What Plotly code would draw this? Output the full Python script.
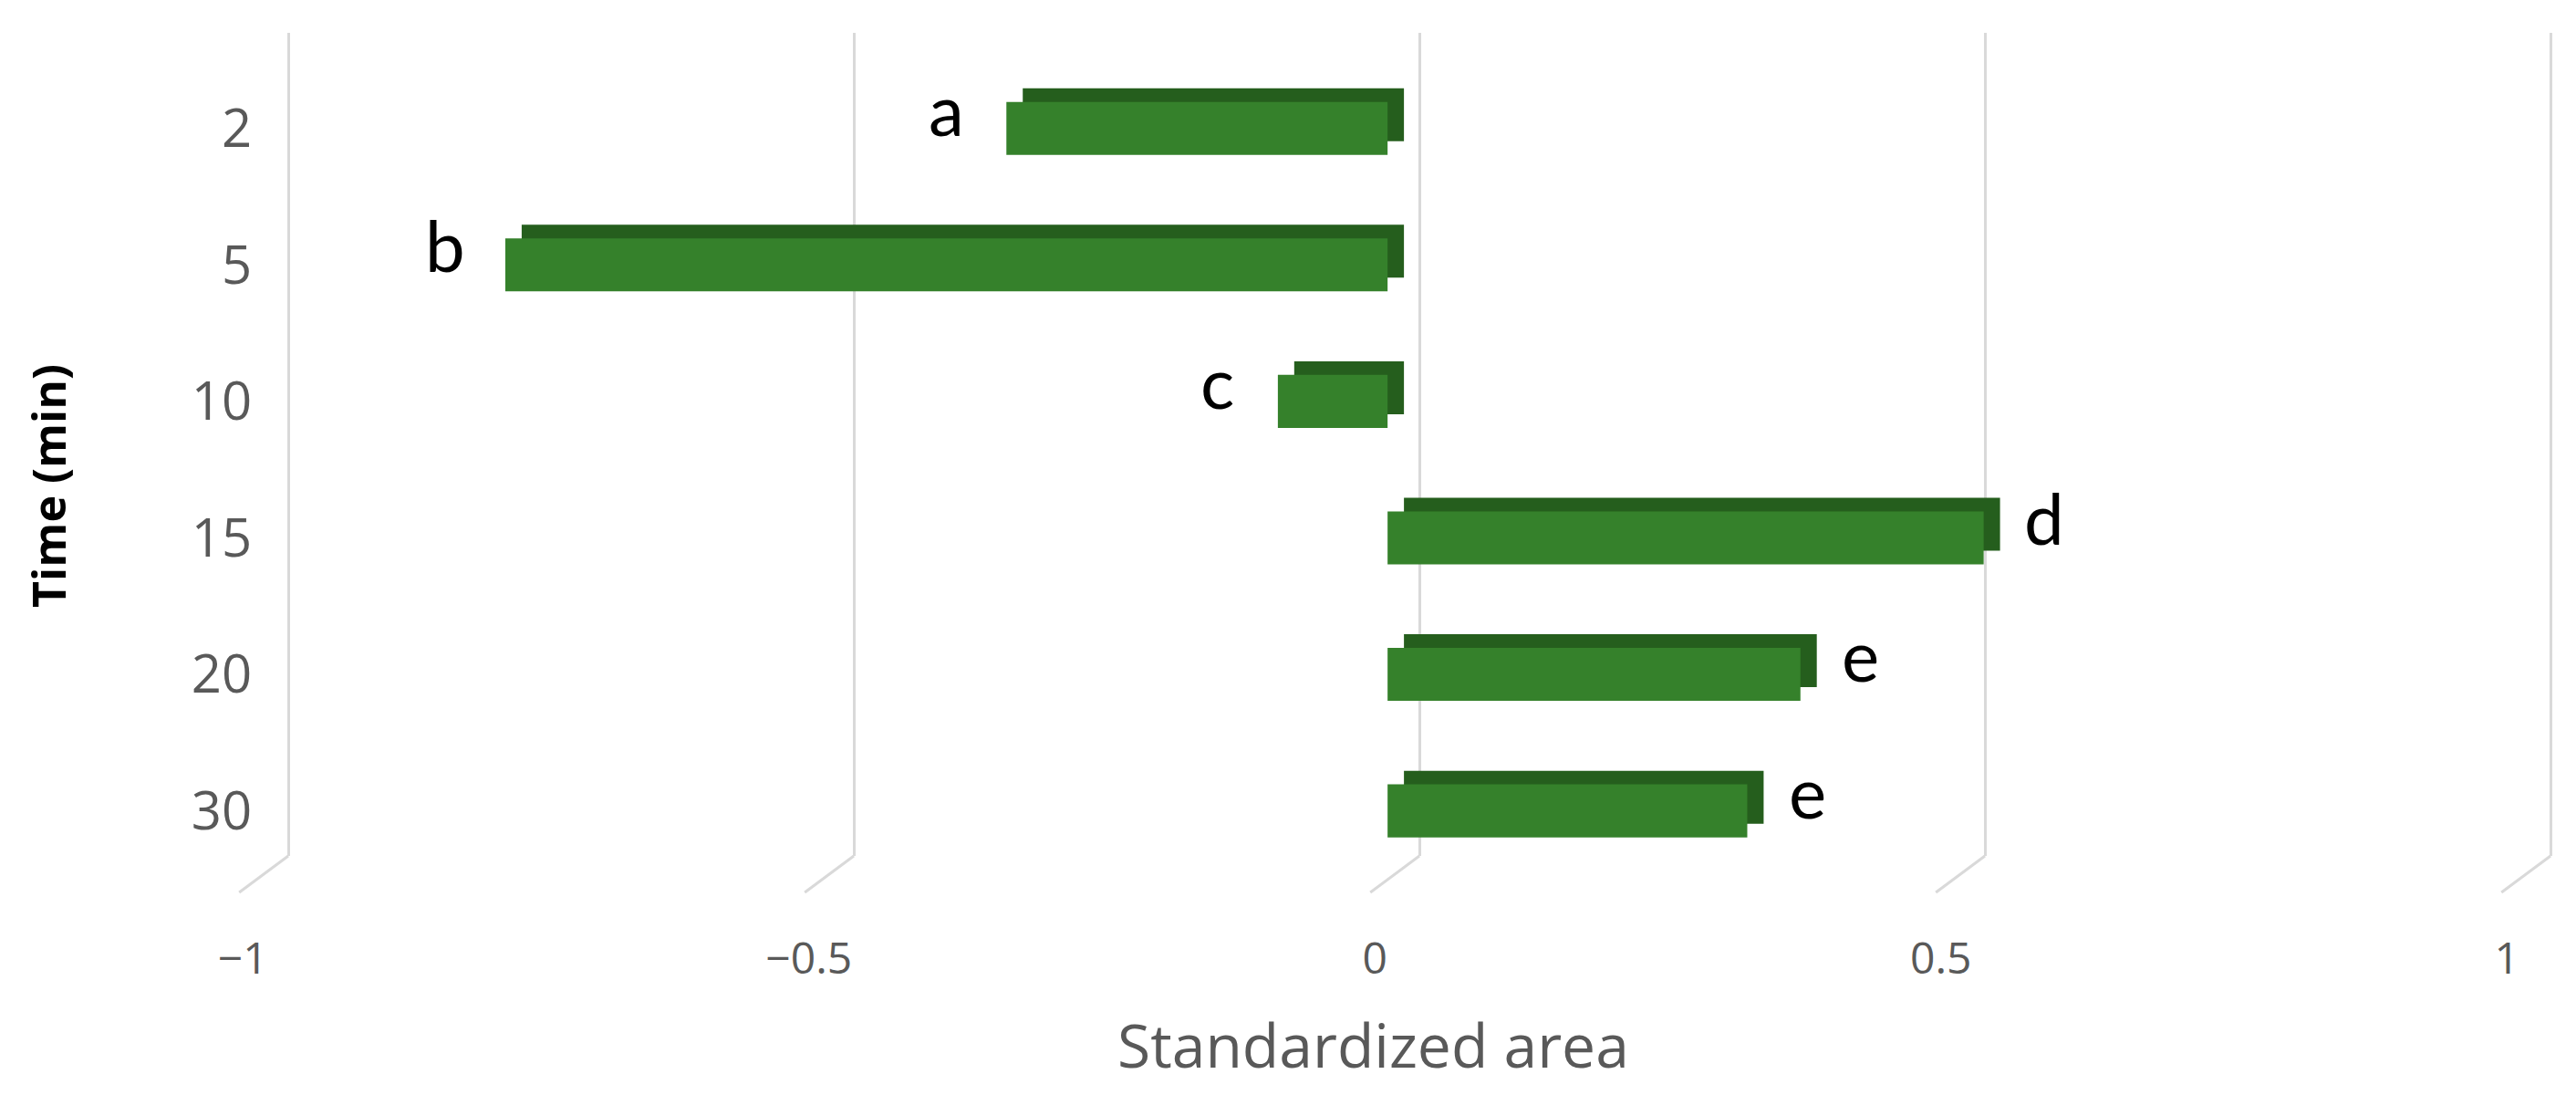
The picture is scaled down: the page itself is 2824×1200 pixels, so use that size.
import plotly.graph_objects as go

# ---- data ----
times = ["2", "5", "10", "15", "20", "30"]
std_area = [-0.337, -0.780, -0.097, 0.527, 0.365, 0.318]
letters = ["a", "b", "c", "d", "e", "e"]
x_ticks = [-1, -0.5, 0, 0.5, 1]

OFF = 8                      # browser body margin
W, H = 2824 - 2 * OFF, 1200 - 2 * OFF
PX = 1244.0                  # pixels per unit on the bar plane


def fx(p):
    return (p - OFF) / W


def fy(p):
    return 1 - (p - OFF) / H


front_col = "#35812B"
shade_col = "#255E1D"
grid_col = "#D9D9D9"
gray = "#595959"

bar_w = 0.388
depth_y = 0.10
depth_x = 18 / PX

fig = go.Figure()
# 3D depth (top + side face)
fig.add_trace(go.Bar(
    y=times, x=std_area, orientation="h", base=depth_x,
    width=bar_w, offset=-bar_w / 2 - depth_y,
    marker=dict(color=shade_col, line=dict(width=0)),
    hoverinfo="skip", showlegend=False,
))
# front face
fig.add_trace(go.Bar(
    y=times, x=std_area, orientation="h",
    width=bar_w, offset=-bar_w / 2,
    marker=dict(color=front_col, line=dict(width=0)),
    showlegend=False,
))
# helper traces for overlay axes
fig.add_trace(go.Scatter(x=[], y=[], xaxis="x2", yaxis="y", showlegend=False))
fig.add_trace(go.Scatter(x=[], y=[], xaxis="x3", yaxis="y", showlegend=False))

x_left, x_right = 240, 2810
dom = [fx(x_left), fx(x_right)]


def rng(zero_px, scale):
    return [(x_left - zero_px) / scale, (x_right - zero_px) / scale]


plot_top, plot_bot = 36, 938

fig.update_layout(
    width=W, height=H,
    margin=dict(l=0, r=0, t=0, b=0),
    paper_bgcolor="white", plot_bgcolor="white",
    barmode="overlay",
    xaxis=dict(domain=dom, range=rng(1517, PX), showgrid=False, zeroline=False,
               showticklabels=False, showline=False, anchor="y"),
    xaxis2=dict(overlaying="x", range=rng(1552, PX), showgrid=True, gridcolor=grid_col,
                gridwidth=3, tickvals=x_ticks, showticklabels=False, zeroline=False,
                showline=False, anchor="y"),
    xaxis3=dict(overlaying="x", range=rng(1503, 1245), showgrid=False, tickvals=x_ticks,
                zeroline=False, showline=False, anchor="y", ticks="",
                ticklabelstandoff=80,
                tickfont=dict(family="Open Sans", size=48, color=gray)),
    yaxis=dict(type="category", categoryarray=times, range=[5.33, -0.70],
               domain=[fy(plot_bot), fy(plot_top)],
               anchor="free", position=fx(268), showgrid=False, zeroline=False,
               showline=False, ticks="",
               tickfont=dict(family="Open Sans", size=58, color=gray)),
)

# diagonal feet of the gridlines
for t in x_ticks:
    fig.add_shape(type="line", xref="x2", yref="paper",
                  x0=t, y0=fy(plot_bot), x1=t - 54 / PX, y1=fy(978),
                  line=dict(color=grid_col, width=3), layer="below")

# letters
for i, (v, lt) in enumerate(zip(std_area, letters)):
    fig.add_annotation(x=v, y=i, xref="x", yref="y", text=lt, showarrow=False,
                       xanchor="center", yanchor="middle",
                       xshift=66 if v > 0 else -66, yshift=22,
                       font=dict(family="Lato", size=78, color="black"))

# axis titles
fig.add_annotation(x=fx(1501), y=fy(1144), xref="paper", yref="paper",
                   text="Standardized area", showarrow=False,
                   xanchor="center", yanchor="middle",
                   font=dict(family="Open Sans", size=66, color=gray))
fig.add_annotation(x=fx(44), y=fy(532), xref="paper", yref="paper",
                   text="<b>Time (min)</b>", showarrow=False, textangle=-90,
                   xanchor="center", yanchor="middle",
                   font=dict(family="Open Sans", size=50, color="black"))

fig.write_html("out.html")
